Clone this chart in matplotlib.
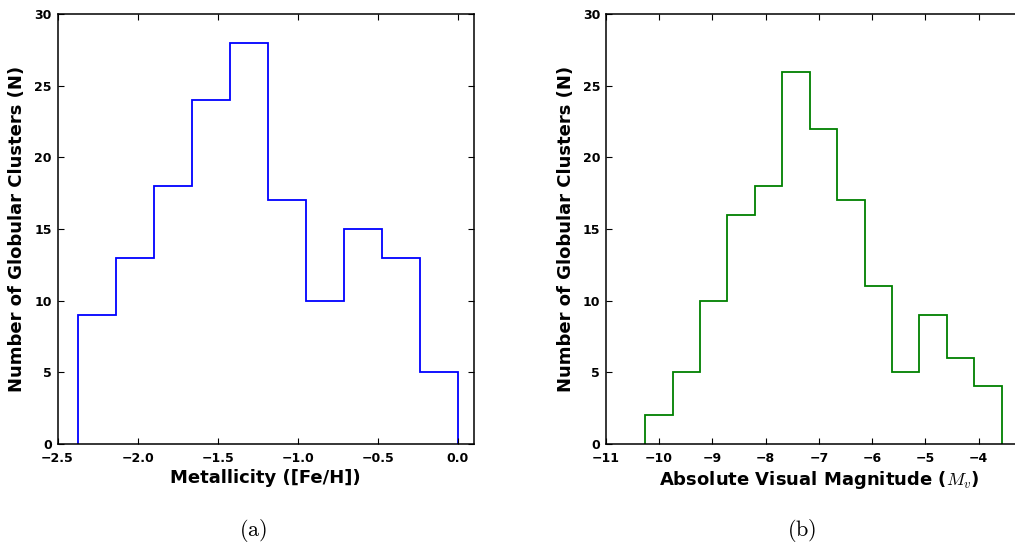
import numpy as np
import matplotlib
matplotlib.use('Agg')
import matplotlib.pyplot as plt

plt.rcParams['mathtext.fontset'] = 'cm'
plt.rcParams['font.family'] = 'DejaVu Sans'

# metallicity histogram
feh_edges = np.linspace(-2.37, 0.0, 11)
feh_counts = [9, 13, 18, 24, 28, 17, 10, 15, 13, 5]

# absolute visual magnitude histogram
mv_edges = np.linspace(-10.26, -3.57, 14)
mv_counts = [2, 5, 10, 16, 18, 26, 22, 17, 11, 5, 9, 6, 4]

feh_ticks = [-2.5, -2.0, -1.5, -1.0, -0.5, 0.0]
mv_ticks = [-11, -10, -9, -8, -7, -6, -5, -4]
y_ticks = [0, 5, 10, 15, 20, 25, 30]


def style_axes(ax):
    for s in ax.spines.values():
        s.set_linewidth(1.1)
    ax.tick_params(direction='in', length=4, width=0.8, top=True, right=True,
                   labelsize=9)
    ax.tick_params(axis='x', pad=6)
    ax.tick_params(axis='y', pad=4)
    for lab in ax.get_xticklabels() + ax.get_yticklabels():
        lab.set_fontweight('bold')
    ax.set_ylim(0, 30)
    ax.set_yticks(y_ticks)
    ax.set_ylabel('Number of Globular Clusters (N)', fontsize=13, fontweight='bold')


fig = plt.figure(figsize=(10.15, 5.44), dpi=100)

ax1 = fig.add_axes([0.0567, 0.1844, 0.4103, 0.7893])
ax1.stairs(feh_counts, feh_edges, color='blue', linewidth=1.3)
ax1.set_xlim(-2.5, 0.1)
ax1.set_xticks(feh_ticks)
style_axes(ax1)
ax1.set_xlabel('Metallicity ([Fe/H])', fontsize=13, fontweight='bold', labelpad=3)
ax1.yaxis.set_label_coords(-0.076, 0.5)

ax2 = fig.add_axes([0.5967, 0.1844, 0.4201, 0.7893])
ax2.stairs(mv_counts, mv_edges, color='green', linewidth=1.3)
ax2.set_xlim(-11, -3)
ax2.set_xticks(mv_ticks)
style_axes(ax2)
ax2.set_xlabel(r'Absolute Visual Magnitude ($M_v$)', fontsize=13, fontweight='bold', labelpad=3)
ax2.yaxis.set_label_coords(-0.072, 0.5)

fig.text(253 / 1015, 1 - 530 / 544, r'$\mathrm{(a)}$', fontsize=16, ha='center', va='center')
fig.text(802 / 1015, 1 - 530 / 544, r'$\mathrm{(b)}$', fontsize=16, ha='center', va='center')

fig.savefig('out.png', dpi=100)
